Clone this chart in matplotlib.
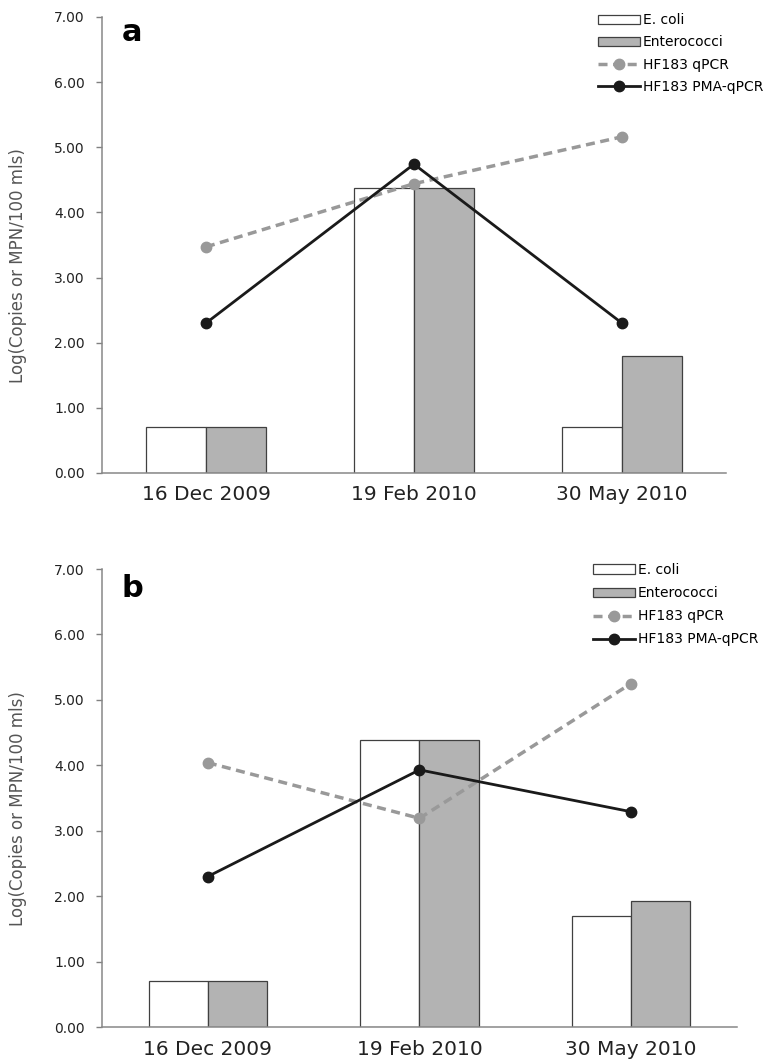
import matplotlib
matplotlib.use("Agg")
import matplotlib.pyplot as plt
import numpy as np

categories = ["16 Dec 2009", "19 Feb 2010", "30 May 2010"]

a_ecoli = [0.70, 4.38, 0.70]
a_entero = [0.70, 4.38, 1.79]
a_qpcr = [3.47, 4.44, 5.16]
a_pma = [2.30, 4.74, 2.30]

b_ecoli = [0.71, 4.39, 1.70]
b_entero = [0.71, 4.39, 1.93]
b_qpcr = [4.04, 3.19, 5.25]
b_pma = [2.30, 3.93, 3.29]

yticks = [0, 1, 2, 3, 4, 5, 6, 7]
ylabel = "Log(Copies or MPN/100 mls)"

fig = plt.figure(figsize=(7.76, 10.59), dpi=100)

def panel(rect, bw, ecoli, entero, qpcr, pma, letter, letter_xy, leg_xy, leg_sp, ylab_xy):
    ax = fig.add_axes(rect)
    x = np.arange(len(categories))
    b1 = ax.bar(x - bw/2, ecoli, bw, color="white", edgecolor="#404040", linewidth=0.9,
                label="E. coli", zorder=2)
    b2 = ax.bar(x + bw/2, entero, bw, color="#b3b3b3", edgecolor="#404040", linewidth=0.9,
                label="Enterococci", zorder=2)
    l1, = ax.plot(x, qpcr, linestyle=(0, (2.6, 1.6)), color="#999999", linewidth=2.5,
                  marker="o", markersize=7.5, label="HF183 qPCR", zorder=3)
    l2, = ax.plot(x, pma, linestyle="-", color="#1a1a1a", linewidth=2.0, marker="o",
                  markersize=7.5, label="HF183 PMA-qPCR", zorder=4)
    ax.set_xlim(-0.5, 2.5)
    ax.set_ylim(0, 7)
    ax.set_yticks(yticks)
    ax.set_yticklabels([f"{v:.2f}" for v in yticks], fontsize=10, color="#222222")
    ax.set_xticks(x)
    ax.set_xticklabels(categories, fontsize=14.5, color="#222222")
    ax.tick_params(axis="x", length=0, pad=9)
    ax.tick_params(axis="y", length=4.3, width=1.0, color="#808080", pad=8)
    for s in ["top", "right"]:
        ax.spines[s].set_visible(False)
    for s in ["left", "bottom"]:
        ax.spines[s].set_color("#888888")
        ax.spines[s].set_linewidth(1.1)
    ax.set_ylabel(ylabel, fontsize=12, color="#555555")
    ax.yaxis.set_label_coords(*ylab_xy)
    ax.text(letter_xy[0], letter_xy[1], letter, transform=ax.transAxes, fontsize=22,
            fontweight="bold", va="baseline", ha="left")
    fig.legend(handles=[b1, b2, l1, l2], loc="upper left", bbox_to_anchor=leg_xy,
               frameon=False, prop={"size": 10},
               handlelength=3.0, handleheight=0.65, labelspacing=leg_sp, handletextpad=0.25,
               borderaxespad=0, borderpad=0)
    return ax

panel([0.1314, 0.5534, 0.8041, 0.4306], 0.29, a_ecoli, a_entero, a_qpcr, a_pma, "a",
      (0.032, 0.947), (0.7706, 0.9877), 0.6, (-0.120, 0.454))
panel([0.1314, 0.0302, 0.8183, 0.4325], 0.28, b_ecoli, b_entero, b_qpcr, b_pma, "b",
      (0.0315, 0.939), (0.764, 0.4684), 0.66, (-0.118, 0.476))

fig.savefig("out.png", dpi=100)
